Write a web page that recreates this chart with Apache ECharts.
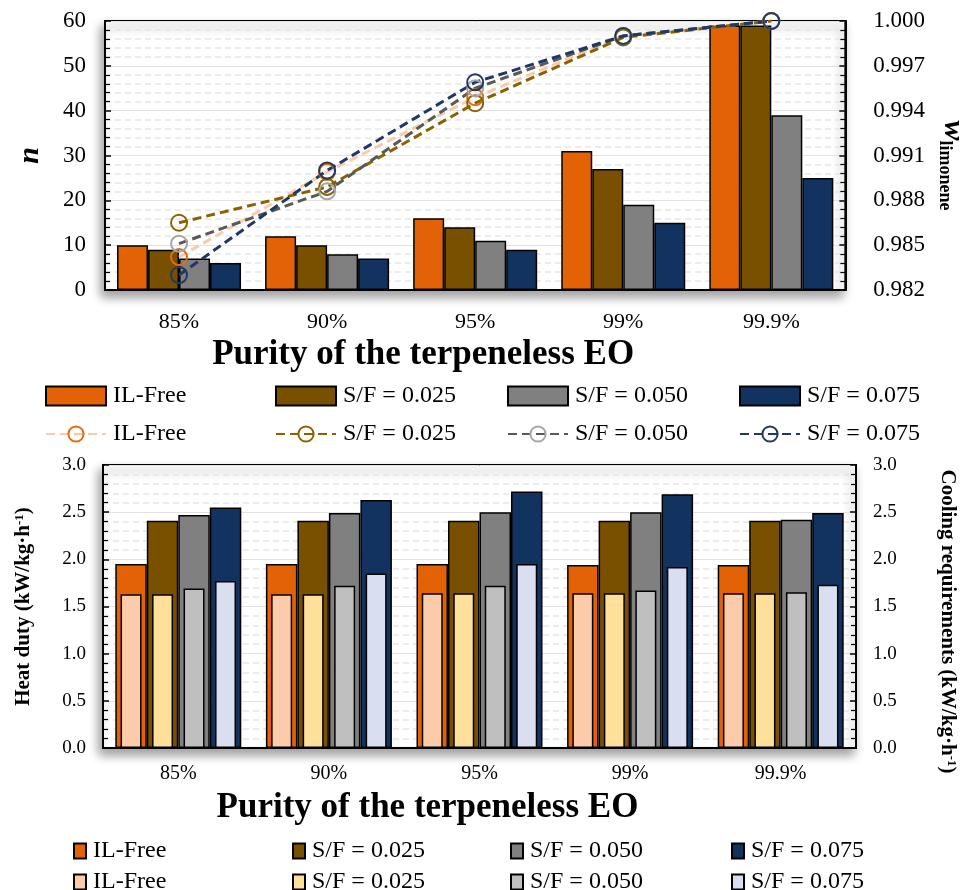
<!DOCTYPE html>
<html>
<head>
<meta charset="utf-8">
<script src="https://cdn.jsdelivr.net/npm/echarts@6/dist/echarts.min.js"></script>
<style>
  html, body { margin: 0; padding: 0; background: #fff; }
  #chart { width: 976px; height: 890px; }
</style>
</head>
<body>
<div id="chart"></div>
<script>
// Purity targets of the terpeneless essential oil
const categories = ['85%', '90%', '95%', '99%', '99.9%'];
const caseLabels = ['IL-Free', 'S/F = 0.025', 'S/F = 0.050', 'S/F = 0.075'];

// Number of stages n
const stagesILFree = [10, 12, 16, 31, 59];
const stagesSF025 = [9, 10, 14, 27, 59];
const stagesSF050 = [7, 8, 11, 19, 39];
const stagesSF075 = [6, 7, 9, 15, 25];

// Limonene mass fraction
const wILFree = [0.9842, 0.9899, 0.9949, 0.9990, 1.0000];
const wSF025 = [0.9865, 0.9889, 0.9945, 0.9989, 1.0000];
const wSF050 = [0.9851, 0.9886, 0.9955, 0.9990, 1.0000];
const wSF075 = [0.9830, 0.9900, 0.9959, 0.9990, 1.0000];

// Heat duty (kW/kg·h-1)
const heatILFree = [1.95, 1.95, 1.95, 1.94, 1.94];
const heatSF025 = [2.41, 2.41, 2.41, 2.41, 2.41];
const heatSF050 = [2.47, 2.49, 2.50, 2.50, 2.42];
const heatSF075 = [2.55, 2.63, 2.72, 2.69, 2.49];

// Cooling requirements (kW/kg·h-1)
const coolILFree = [1.63, 1.63, 1.64, 1.64, 1.64];
const coolSF025 = [1.63, 1.63, 1.64, 1.64, 1.64];
const coolSF050 = [1.69, 1.72, 1.72, 1.67, 1.65];
const coolSF075 = [1.77, 1.85, 1.95, 1.92, 1.73];

// w axis tick labels
const wTicks = ['0.982', '0.985', '0.988', '0.991', '0.994', '0.997', '1.000'];
const W_BASE = 0.982;

const FONT = '"Liberation Serif", "Times New Roman", serif';

const barDark = ['#E26205', '#785000', '#808080', '#12325F'];
const barLight = ['#FCCBAA', '#FFE09A', '#BFBFBF', '#D9DFF0'];
const lineColor = ['#F8CBAD', '#8B6200', '#595959', '#1F3864'];
const markColor = ['#E36C09', '#8B6200', '#A6A6A6', '#1F3864'];

const stages = [stagesILFree, stagesSF025, stagesSF050, stagesSF075];
const wFrac = [wILFree, wSF025, wSF050, wSF075];
const heat = [heatILFree, heatSF025, heatSF050, heatSF075];
const cool = [coolILFree, coolSF025, coolSF050, coolSF075];

// w is drawn on an offset axis (thousandths above 0.982)
const toOffset = v => Math.round((v - W_BASE) * 1e6) / 1e3;

const gridShadow = {
  show: true, backgroundColor: '#fff', borderColor: '#000', borderWidth: 2,
  shadowColor: 'rgba(0,0,0,0.38)', shadowBlur: 10, shadowOffsetX: -3, shadowOffsetY: 6
};

function valueAxis(extra) {
  return Object.assign({
    type: 'value',
    axisLine: { show: true, lineStyle: { color: '#000', width: 2 } },
    axisTick: { show: true, inside: true, length: 6, lineStyle: { color: '#000', width: 1.5 } },
    minorTick: { show: true, splitNumber: 5, length: 5, lineStyle: { color: '#000', width: 1.2 } },
    axisLabel: { color: '#000', fontFamily: FONT, fontSize: 23, margin: 19 },
    splitLine: { show: false },
    minorSplitLine: { show: false }
  }, extra);
}

const series = [];
caseLabels.forEach((lab, i) => {
  series.push({
    name: 'n|' + lab, type: 'bar', xAxisIndex: 0, yAxisIndex: 0,
    barWidth: 31, barGap: '0%', data: stages[i], z: 2,
    itemStyle: { color: barDark[i], borderColor: '#000', borderWidth: 1.5 }
  });
});
caseLabels.forEach((lab, i) => {
  series.push({
    name: 'w|' + lab, type: 'line', xAxisIndex: 0, yAxisIndex: 1,
    data: wFrac[i].map(toOffset), z: 5,
    symbol: 'circle', symbolSize: 16,
    lineStyle: { color: lineColor[i], width: 3, type: [9, 5] },
    itemStyle: { color: 'rgba(255,255,255,0)', borderColor: markColor[i], borderWidth: 2 }
  });
});
caseLabels.forEach((lab, i) => {
  series.push({
    name: 'h|' + lab, type: 'bar', xAxisIndex: 1, yAxisIndex: 2,
    barWidth: 31.5, barGap: '0%', data: heat[i], z: 2,
    itemStyle: { color: barDark[i], borderColor: '#000', borderWidth: 1.5 }
  });
});
caseLabels.forEach((lab, i) => {
  series.push({
    name: 'c|' + lab, type: 'bar', xAxisIndex: 2, yAxisIndex: 3,
    barWidth: 21, barGap: '50%', data: cool[i], z: 3,
    itemStyle: { color: barLight[i], borderColor: '#000', borderWidth: 1.5 }
  });
});

// One legend block per entry so the columns line up
const legendCols = [45, 275, 507, 739];
const legendColsB = [73, 292, 510, 731];
const legends = [];
function addLegend(name, left, top, w, h) {
  legends.push({
    data: [name], left: left, top: top, itemWidth: w, itemHeight: h,
    icon: name.startsWith('w|') ? undefined : 'rect',
    padding: 0, itemGap: 0, selectedMode: false,
    formatter: n => n.split('|')[1],
    textStyle: { fontFamily: FONT, fontSize: 24, color: '#000', padding: [0, 0, 0, 2] }
  });
}
caseLabels.forEach((lab, i) => {
  addLegend('n|' + lab, legendCols[i], 384, 60, 19);
  addLegend('w|' + lab, legendCols[i], 422, 60, 19);
  addLegend('h|' + lab, legendColsB[i], 839, 12, 15);
  addLegend('c|' + lab, legendColsB[i], 870, 12, 15);
});

const xNameStyle = { fontFamily: FONT, fontSize: 35, fontWeight: 'bold', color: '#000', padding: [0, 104, 0, 0] };

const option = {
  animation: false,
  backgroundColor: '#fff',
  grid: [
    Object.assign({ left: 105, top: 21, width: 751, height: 269 }, gridShadow),
    Object.assign({ left: 103, top: 465, width: 753, height: 283 }, gridShadow)
  ],
  legend: legends,
  xAxis: [
    {
      type: 'category', gridIndex: 0, data: categories,
      name: 'Purity of the terpeneless EO', nameLocation: 'middle', nameGap: 47,
      nameTextStyle: xNameStyle,
      axisLine: { show: true, lineStyle: { color: '#000', width: 2 } },
      axisTick: { show: false },
      axisLabel: { color: '#000', fontFamily: FONT, fontSize: 22, margin: 21 }
    },
    {
      type: 'category', gridIndex: 1, data: categories,
      name: 'Purity of the terpeneless EO', nameLocation: 'middle', nameGap: 42,
      nameTextStyle: xNameStyle,
      axisLine: { show: true, lineStyle: { color: '#000', width: 2 } },
      axisTick: { show: false },
      axisLabel: { color: '#000', fontFamily: FONT, fontSize: 20, margin: 16 }
    },
    {
      type: 'category', gridIndex: 1, data: categories, show: false
    }
  ],
  yAxis: [
    valueAxis({
      gridIndex: 0, position: 'left', min: 0, max: 60, interval: 10,
      name: 'n', nameLocation: 'middle', nameGap: 60, nameRotate: 90,
      nameTextStyle: { fontFamily: FONT, fontSize: 30, fontWeight: 'bold', fontStyle: 'italic', color: '#000' },
      splitLine: { show: true, lineStyle: { color: '#E2E2E2', width: 1 } },
      minorSplitLine: { show: true, lineStyle: { color: '#E6E6E6', width: 1.5, type: [6, 4] } }
    }),
    valueAxis({
      gridIndex: 0, position: 'right', min: 0, max: 18, interval: 3,
      axisLabel: { color: '#000', fontFamily: FONT, fontSize: 23, margin: 28,
        formatter: v => wTicks[Math.round(v / 3)] },
      name: '{w|w}{s|limonene}', nameLocation: 'middle', nameGap: 90, nameRotate: -90,
      nameTextStyle: {
        color: '#000', padding: [0, 0, 0, 20],
        rich: {
          w: { fontFamily: FONT, fontSize: 30, fontWeight: 'bold', fontStyle: 'italic', color: '#000' },
          s: { fontFamily: FONT, fontSize: 18, fontWeight: 'bold', color: '#000', padding: [16, 0, 0, 0] }
        }
      }
    }),
    valueAxis({
      gridIndex: 1, position: 'left', min: 0, max: 3, interval: 0.5,
      axisLabel: { color: '#000', fontFamily: FONT, fontSize: 19, margin: 17, formatter: v => v.toFixed(1) },
      name: '{a|Heat duty (kW/kg·h}{b|-1}{a|)}', nameLocation: 'middle', nameGap: 68, nameRotate: 90,
      nameTextStyle: {
        color: '#000',
        rich: {
          a: { fontFamily: FONT, fontSize: 21, fontWeight: 'bold', color: '#000' },
          b: { fontFamily: FONT, fontSize: 13, fontWeight: 'bold', color: '#000', padding: [0, 0, 9, 0] }
        }
      },
      splitLine: { show: true, lineStyle: { color: '#E2E2E2', width: 1 } },
      minorSplitLine: { show: true, lineStyle: { color: '#E6E6E6', width: 1.5, type: [6, 4] } }
    }),
    valueAxis({
      gridIndex: 1, position: 'right', min: 0, max: 3, interval: 0.5,
      axisLabel: { color: '#000', fontFamily: FONT, fontSize: 19, margin: 17, formatter: v => v.toFixed(1) },
      name: '{a|Cooling requirements (kW/kg·h}{b|-1}{a|)}', nameLocation: 'middle', nameGap: 80, nameRotate: -90,
      nameTextStyle: {
        color: '#000', padding: [0, 0, 0, 30],
        rich: {
          a: { fontFamily: FONT, fontSize: 21, fontWeight: 'bold', color: '#000' },
          b: { fontFamily: FONT, fontSize: 13, fontWeight: 'bold', color: '#000', padding: [0, 0, 9, 0] }
        }
      }
    })
  ],
  series: series
};

const chart = echarts.init(document.getElementById('chart'), null, { renderer: 'canvas' });
chart.setOption(option);
</script>
</body>
</html>
